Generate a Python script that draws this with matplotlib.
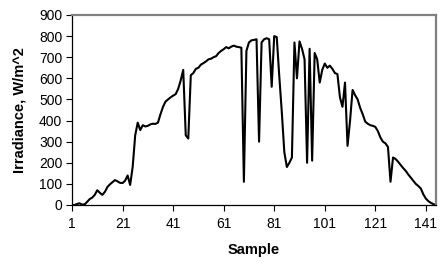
import numpy as np
import matplotlib
matplotlib.use("Agg")
import matplotlib.pyplot as plt

# irradiance readings, one per sample
irradiance = [
    0, 0, 5, 8, 2, 3, 15, 28, 35, 48,
    70, 58, 48, 62, 85, 98, 108, 118, 112, 105,
    104, 115, 140, 95, 180, 330, 390, 355, 378, 372,
    375, 382, 385, 384, 390, 430, 465, 490, 500, 510,
    518, 525, 550, 590, 640, 330, 315, 615, 625, 645,
    650, 665, 672, 680, 690, 693, 700, 705, 720, 730,
    738, 748, 742, 750, 755, 750, 748, 745, 110, 730,
    770, 780, 782, 785, 300, 770, 785, 790, 785, 560,
    800, 795, 610, 440, 250, 180, 200, 225, 770, 600,
    775, 740, 690, 200, 740, 210, 720, 690, 580, 640,
    670, 650, 660, 645, 625, 620, 510, 465, 580, 280,
    400, 545, 520, 500, 460, 430, 395, 385, 378, 375,
    370, 350, 320, 300, 292, 275, 110, 225, 218, 205,
    190, 175, 162, 145, 130, 115, 100, 90, 78, 50,
    30, 18, 10, 4, 0,
]
samples = np.arange(1, len(irradiance) + 1)
xticks = [1, 21, 41, 61, 81, 101, 121, 141]
yticks = list(range(0, 901, 100))

plt.rcParams['font.family'] = ['Liberation Sans', 'DejaVu Sans']

fig = plt.figure(figsize=(4.43, 2.67), dpi=100)
ax = fig.add_axes([72 / 443, 62 / 267, 364 / 443, 190 / 267])

ax.plot(samples, irradiance, color="black", linewidth=1.5)

ax.set_xlim(1, len(irradiance))
ax.set_ylim(0, 900)
ax.set_xticks(xticks)
ax.set_yticks(yticks)
ax.tick_params(direction="out", length=4, width=0.8, labelsize=10, pad=3)
ax.tick_params(axis="x", pad=5)

for side in ["left", "bottom"]:
    ax.spines[side].set_color("black")
    ax.spines[side].set_linewidth(0.9)
for side in ["top", "right"]:
    ax.spines[side].set_color("#808080")
    ax.spines[side].set_linewidth(1.6)

ax.set_xlabel("Sample", fontsize=10.5, fontweight="bold", labelpad=8)
ax.set_ylabel("Irradiance, W/m^2", fontsize=10.5, fontweight="bold", labelpad=9)

fig.savefig("out.png", dpi=100)
